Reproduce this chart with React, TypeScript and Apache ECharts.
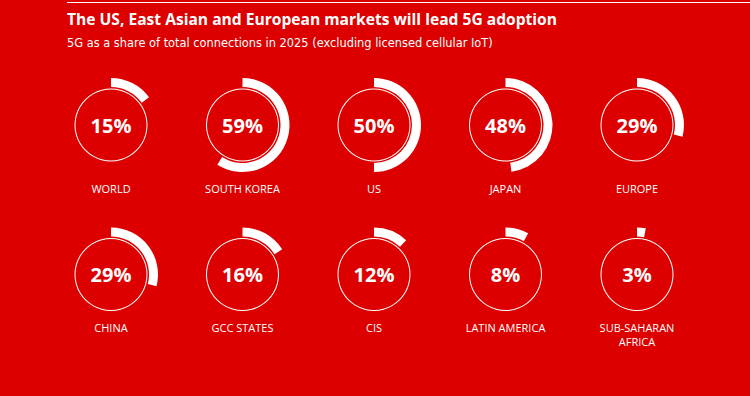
import React, { useEffect, useRef } from "react";
import * as echarts from "echarts";

const regions = ["WORLD", "SOUTH KOREA", "US", "JAPAN", "EUROPE", "CHINA", "GCC STATES", "CIS", "LATIN AMERICA", "SUB-SAHARAN\nAFRICA"];
const shares = [15, 59, 50, 48, 29, 29, 16, 12, 8, 3];

const title = "The US, East Asian and European markets will lead 5G adoption";
const subtitle = "5G as a share of total connections in 2025 (excluding licensed cellular IoT)";

const BG = "#dd0000";
const colX = [111, 242.5, 374, 505.5, 637];
const rowY = [125, 274.5];
const labelY = [188, 327];
const FONT = "'Open Sans', sans-serif";

export default function App() {
  const ref = useRef<HTMLDivElement>(null);
  useEffect(() => {
    if (!ref.current) return;
    const chart = echarts.init(ref.current, null, { renderer: "svg" });
    const series: any[] = [];
    const graphics: any[] = [
      { type: "line", shape: { x1: 67, y1: 2.5, x2: 750, y2: 2.5 }, style: { stroke: "#ffffff", lineWidth: 1 } },
      { type: "text", x: 67, y: 18.5, style: { text: title, fill: "#fff", font: `bold 15.6px ${FONT}`, verticalAlign: "middle" } },
      { type: "text", x: 67, y: 43, style: { text: subtitle, fill: "#fff", font: `11.4px 'DejaVu Sans', sans-serif`, verticalAlign: "middle" } },
    ];
    regions.forEach((name, i) => {
      const row = Math.floor(i / 5);
      const cx = colX[i % 5];
      const cy = rowY[row];
      series.push({
        type: "pie",
        center: [cx, cy],
        radius: [35.5, 36.5],
        silent: true,
        label: { show: false },
        labelLine: { show: false },
        itemStyle: { color: "#ffffff" },
        data: [{ value: 1, name: name + " ring" }],
      });
      series.push({
        type: "pie",
        center: [cx, cy],
        radius: [38, 47],
        startAngle: 90,
        clockwise: true,
        silent: true,
        labelLine: { show: false },
        data: [
          {
            value: shares[i],
            name,
            itemStyle: { color: "#ffffff" },
            label: {
              show: true,
              position: "center",
              formatter: () => shares[i] + "%",
              color: "#ffffff",
              fontFamily: FONT,
              fontWeight: "bold",
              fontSize: 20,
            },
          },
          {
            value: 100 - shares[i],
            name: name + " rest",
            itemStyle: { color: "rgba(0,0,0,0)" },
            label: { show: false },
          },
        ],
      });
      graphics.push({
        type: "text",
        x: cx,
        y: labelY[row] - 7,
        style: {
          text: name,
          fill: "#fff",
          font: `11px ${FONT}`,
          align: "center",
          verticalAlign: "top",
          lineHeight: 14,
        },
      });
    });
    chart.setOption({
      animation: false,
      backgroundColor: BG,
      series,
      graphic: graphics,
    });
    return () => chart.dispose();
  }, []);
  return <div ref={ref} style={{ position: "fixed", left: 0, top: 0, width: 750, height: 396 }} />;
}
